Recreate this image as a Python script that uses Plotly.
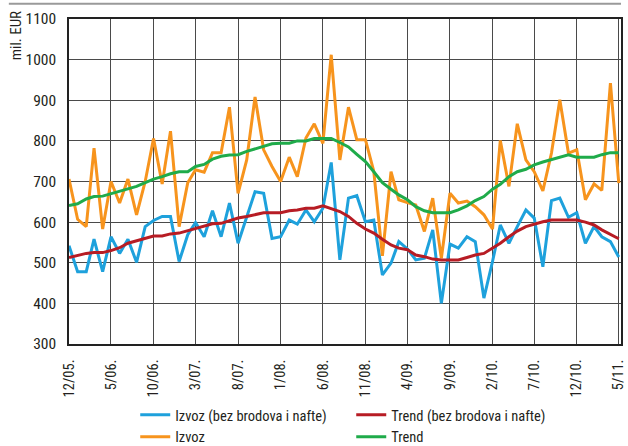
import pandas as pd
import plotly.graph_objects as go

# Monthly series, December 2005 - May 2011 (mil. EUR)
months = pd.date_range("2005-12-01", periods=66, freq="MS")

izvoz_bez = [542, 478, 478, 558, 478, 564, 523, 558, 501, 589, 604, 614, 614, 503, 569, 599,
             564, 628, 564, 647, 548, 614, 675, 671, 560, 564, 605, 595, 630, 601, 634, 747,
             507, 659, 665, 601, 605, 470, 499, 552, 534, 507, 511, 581, 400, 546, 536, 564,
             552, 413, 503, 593, 548, 589, 630, 610, 490, 653, 659, 612, 623, 548, 589, 564,
             552, 514]

izvoz = [706, 607, 589, 782, 583, 700, 647, 706, 618, 700, 806, 694, 824, 589, 697, 729,
         723, 771, 771, 883, 671, 753, 908, 778, 737, 700, 760, 712, 807, 842, 794, 1012,
         753, 883, 803, 803, 725, 517, 724, 655, 648, 642, 577, 659, 511, 671, 647, 652,
         638, 618, 583, 801, 688, 842, 753, 724, 677, 770, 901, 770, 778, 655, 694, 678,
         942, 696]

trend_bez = [513, 518, 523, 525, 525, 530, 537, 548, 554, 560, 566, 566, 571, 573, 579, 585,
             591, 596, 597, 604, 610, 614, 618, 623, 623, 623, 628, 630, 634, 634, 640, 634,
             626, 614, 597, 583, 573, 558, 544, 536, 532, 519, 515, 509, 507, 507, 507, 513,
             519, 523, 536, 548, 564, 578, 589, 595, 601, 605, 605, 605, 605, 600, 593, 581,
             569, 559]

trend = [641, 645, 657, 663, 664, 670, 675, 682, 688, 697, 706, 712, 719, 724, 724, 737,
         742, 755, 762, 765, 766, 774, 780, 786, 793, 794, 794, 800, 800, 806, 806, 806,
         796, 785, 767, 749, 724, 697, 681, 667, 655, 638, 628, 623, 623, 623, 630, 640,
         653, 663, 681, 693, 712, 724, 730, 741, 748, 754, 760, 766, 760, 760, 760, 766,
         771, 771]

FONT = "Roboto Condensed, Roboto, sans-serif"
TXT = "#231f20"

series = [
    ("Izvoz (bez brodova i nafte)", izvoz_bez, "#1ea1dc", 1),
    ("Izvoz", izvoz, "#f7941d", 3),
    ("Trend (bez brodova i nafte)", trend_bez, "#b71c24", 2),
    ("Trend", trend, "#1fab4a", 4),
]

fig = go.Figure()
for name, vals, color, rank in series:
    fig.add_trace(go.Scatter(
        x=months, y=vals, name=name, mode="lines",
        line=dict(color=color, width=3), legendrank=rank,
    ))

fig.update_layout(
    width=628, height=446,
    margin=dict(l=69, r=7, t=19, b=102, autoexpand=False),
    paper_bgcolor="white", plot_bgcolor="white",
    font=dict(family=FONT, size=15, color=TXT),
    showlegend=True,
    legend=dict(
        orientation="h", x=0.12, xanchor="left", y=-0.169, yanchor="top",
        entrywidth=171, entrywidthmode="pixels",
        font=dict(family=FONT, size=14.5, color=TXT),
        bgcolor="rgba(0,0,0,0)", traceorder="normal",
    ),
    xaxis=dict(
        type="date",
        range=["2005-12-01", "2011-05-09"],
        tick0="2005-12-01", dtick="M5", tickformat="%-m/%y.",
        tickangle=-90, ticks="", ticklabelstandoff=8,
        tickfont=dict(family=FONT, size=14.5, color=TXT),
        showgrid=True, gridcolor="#4a4a4a", gridwidth=1.3,
        showline=True, linecolor="#222", linewidth=1.5, mirror=True,
        zeroline=False,
    ),
    yaxis=dict(
        range=[300, 1100], dtick=100, tick0=300,
        ticks="", ticklabelstandoff=8,
        tickfont=dict(family=FONT, size=15.5, color=TXT),
        showgrid=True, gridcolor="#4a4a4a", gridwidth=1.3,
        showline=True, linecolor="#222", linewidth=1.5, mirror=True,
        zeroline=False,
    ),
    annotations=[dict(
        text="mil. EUR", textangle=-90, showarrow=False,
        xref="paper", yref="paper", x=-0.097, y=0.948,
        xanchor="center", yanchor="middle",
        font=dict(family=FONT, size=15, color=TXT),
    )],
    shapes=[dict(
        type="line", xref="paper", yref="paper",
        x0=-0.109, x1=1.0, y0=1.047, y1=1.047,
        line=dict(color="#9a9a9a", width=2),
    )],
)

fig.write_html("out.html")
